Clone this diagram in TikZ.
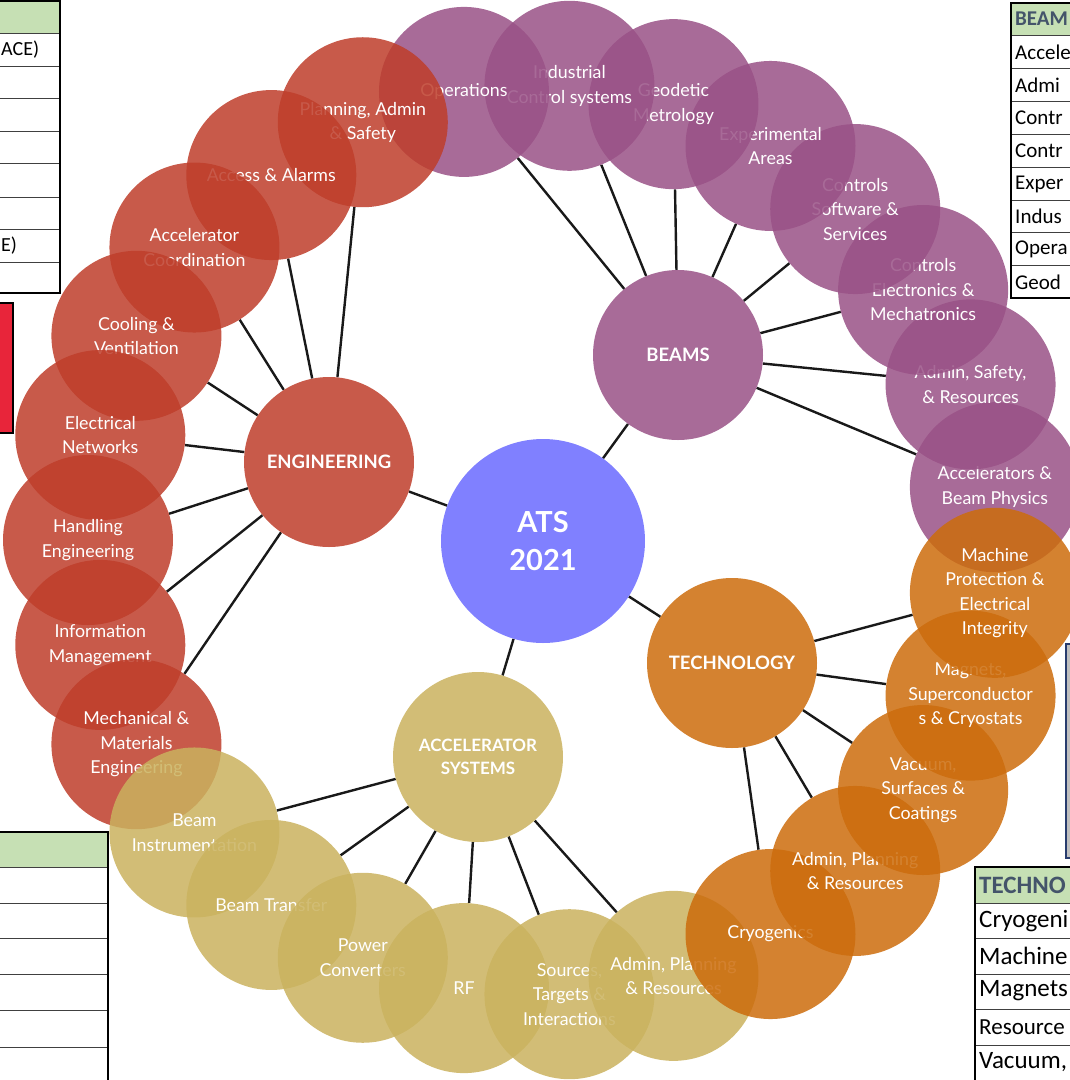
\documentclass[tikz,border=0pt]{standalone}
\usepackage{fontspec}
\setmainfont{Lato}
\newfontfamily\calfont{Carlito}
\definecolor{purpleC}{RGB}{153,81,134}
\definecolor{redC}{RGB}{190,61,42}
\definecolor{orangeC}{RGB}{204,108,12}
\definecolor{goldC}{RGB}{202,178,94}
\definecolor{atsC}{RGB}{128,128,255}
\definecolor{headgreen}{RGB}{198,224,180}
\definecolor{slateT}{RGB}{68,84,106}
\definecolor{redbox}{RGB}{232,37,58}
\definecolor{navyB}{RGB}{40,60,110}
\pgfdeclarelayer{bg}
\pgfsetlayers{bg,main}
\begin{document}
\begin{tikzpicture}[x=1pt,y=-1pt,
  bubble/.style={circle, minimum size=170pt, inner sep=0pt, fill opacity=0.85, text opacity=1, text=white, align=center, font=\fontsize{17.8}{24.5}\selectfont},
  hub/.style={bubble, font=\bfseries\fontsize{18.5}{23}\selectfont},
  conn/.style={line width=2.4pt, draw=black!90},
  cell/.style={font=\calfont\fontsize{21}{21}\selectfont, anchor=west, inner sep=0pt},
  bigcell/.style={font=\calfont\fontsize{25}{25}\selectfont, anchor=west, inner sep=0pt},
  thinrule/.style={line width=1pt, draw=black!75},
  thickrule/.style={line width=2.2pt, draw=black}
]
\useasboundingbox (0,0) rectangle (1070,1080);

% hubs
\node[circle, minimum size=204pt, inner sep=0pt, fill=atsC, text=white, align=center, font=\bfseries\fontsize{29}{38}\selectfont] (ats) at (543,541) {ATS\\2021};
\node[hub, fill=purpleC] (beams) at (678,355) {BEAMS};
\node[hub, fill=redC] (eng) at (329,462) {ENGINEERING};
\node[hub, fill=orangeC] (tech) at (732,663) {TECHNOLOGY};
\node[hub, fill=goldC, font=\bfseries\fontsize{17}{23}\selectfont] (accsys) at (478,757) {ACCELERATOR\\SYSTEMS};

% ring of bubbles (drawn counter-clockwise, each above the previous)
\node[bubble, fill=purpleC] (accp) at ({543+455*cos(6.667)},{540-455*sin(6.667)}) {Accelerators \&\\Beam Physics};
\node[bubble, fill=purpleC] (adms) at ({543+455*cos(20)},{540-455*sin(20)}) {Admin, Safety,\\\& Resources};
\node[bubble, fill=purpleC] (ctle) at ({543+455*cos(33.333)},{540-455*sin(33.333)}) {Controls\\Electronics \&\\Mechatronics};
\node[bubble, fill=purpleC] (ctls) at ({543+455*cos(46.667)},{540-455*sin(46.667)}) {Controls\\Software \&\\Services};
\node[bubble, fill=purpleC] (exper) at ({543+455*cos(60)},{540-455*sin(60)}) {Experimental\\Areas};
\node[bubble, fill=purpleC] (geod) at ({543+455*cos(73.333)},{540-455*sin(73.333)}) {Geodetic\\Metrology};
\node[bubble, fill=purpleC] (indus) at ({543+455*cos(86.667)},{540-455*sin(86.667)}) {Industrial\\Control systems};
\node[bubble, fill=purpleC] (oper) at ({543+455*cos(100)},{540-455*sin(100)}) {Operations};
\node[bubble, fill=redC] (plan) at ({543+455*cos(113.333)},{540-455*sin(113.333)}) {Planning, Admin\\\& Safety};
\node[bubble, fill=redC] (access) at ({543+455*cos(126.667)},{540-455*sin(126.667)}) {Access \& Alarms};
\node[bubble, fill=redC] (acoord) at ({543+455*cos(140)},{540-455*sin(140)}) {Accelerator\\Coordination};
\node[bubble, fill=redC] (cool) at ({543+455*cos(153.333)},{540-455*sin(153.333)}) {Cooling \&\\Ventilation};
\node[bubble, fill=redC] (elec) at ({543+455*cos(166.667)},{540-455*sin(166.667)}) {Electrical\\Networks};
\node[bubble, fill=redC] (hand) at ({543+455*cos(180)},{540-455*sin(180)}) {Handling\\Engineering};
\node[bubble, fill=redC] (info) at ({543+455*cos(193.333)},{540-455*sin(193.333)}) {Information\\Management};
\node[bubble, fill=redC] (mech) at ({543+455*cos(206.667)},{540-455*sin(206.667)}) {Mechanical \&\\Materials\\Engineering};
\node[bubble, fill=goldC] (binst) at ({543+455*cos(220)},{540-455*sin(220)}) {Beam\\Instrumentation};
\node[bubble, fill=goldC] (btrans) at ({543+455*cos(233.333)},{540-455*sin(233.333)}) {Beam Transfer};
\node[bubble, fill=goldC] (power) at ({543+455*cos(246.667)},{540-455*sin(246.667)}) {Power\\Converters};
\node[bubble, fill=goldC] (rf) at ({543+455*cos(260)},{540-455*sin(260)}) {RF};
\node[bubble, fill=goldC] (source) at ({543+455*cos(273.333)},{540-455*sin(273.333)}) {Sources,\\Targets \&\\Interactions};
\node[bubble, fill=goldC] (admg) at ({543+455*cos(286.667)},{540-455*sin(286.667)}) {Admin, Planning\\\& Resources};
\node[bubble, fill=orangeC] (cryo) at ({543+455*cos(300)},{540-455*sin(300)}) {Cryogenics};
\node[bubble, fill=orangeC] (admt) at ({543+455*cos(313.333)},{540-455*sin(313.333)}) {Admin, Planning\\\& Resources};
\node[bubble, fill=orangeC] (vac) at ({543+455*cos(326.667)},{540-455*sin(326.667)}) {Vacuum,\\Surfaces \&\\Coatings};
\node[bubble, fill=orangeC] (magn) at ({543+455*cos(340)},{540-455*sin(340)}) {Magnets,\\Superconductor\\s \& Cryostats};
\node[bubble, fill=orangeC] (mpei) at ({543+455*cos(353.333)},{540-455*sin(353.333)}) {Machine\\Protection \&\\Electrical\\Integrity};

% connectors behind
\begin{pgfonlayer}{bg}
\foreach \n in {beams,eng,tech,accsys} \draw[conn] (ats) -- (\n);
\foreach \n in {accp,adms,ctle,ctls,exper,geod,indus,oper} \draw[conn] (beams) -- (\n);
\foreach \n in {plan,access,acoord,cool,elec,hand,info,mech} \draw[conn] (eng) -- (\n);
\foreach \n in {binst,btrans,power,rf,source,admg} \draw[conn] (accsys) -- (\n);
\foreach \n in {cryo,admt,vac,magn,mpei} \draw[conn] (tech) -- (\n);
\end{pgfonlayer}

% ---- partial tables at the edges ----
% top-left
\fill[headgreen] (-3,1) rectangle (60,33);
\foreach \yy in {33,66,98,131,163,197,229,262} \draw[thinrule] (-3,\yy) -- (60,\yy);
\draw[thickrule] (-3,1) -- (60,1) -- (60,293) -- (-3,293);
\node[cell, font=\calfont\fontsize{20}{20}\selectfont] (tl1) at (1,50) {ACE)};
\node[cell, font=\calfont\fontsize{20}{20}\selectfont] (tl7) at (1,246) {E)};
% red box
\filldraw[fill=redbox, draw=black, line width=1.5pt] (-3,303) rectangle (13,433);

% top-right
\fill[headgreen] (1011,3) rectangle (1075,35.5);
\foreach \yy in {35.5,68.5,101.5,134.5,167.5,200,232.5,265.5} \draw[thinrule] (1011,\yy) -- (1075,\yy);
\draw[thickrule] (1075,3) -- (1011,3) -- (1011,298) -- (1075,298);
\node[cell, font=\calfont\bfseries\fontsize{21}{21}\selectfont, text=slateT] (tr0) at (1015,19) {BEAM};
\node[cell] (tr1) at (1015,52) {Accele};
\node[cell] (tr2) at (1015,85) {Admi};
\node[cell] (tr3) at (1015,118) {Contr};
\node[cell] (tr4) at (1015,151) {Contr};
\node[cell] (tr5) at (1015,184) {Exper};
\node[cell] (tr6) at (1015,216) {Indus};
\node[cell] (tr7) at (1015,249) {Opera};
\node[cell] (tr8) at (1015,282) {Geod};

% bottom-left
\fill[headgreen] (-3,832) rectangle (108,867);
\foreach \yy in {867,903,938,974,1010,1047} \draw[thinrule] (-3,\yy) -- (108,\yy);
\draw[thickrule] (-3,832) -- (108,832) -- (108,1083);

% right sliver (picture frame)
\filldraw[fill=black!25, draw=navyB, line width=1.5pt] (1066,644) rectangle (1078,858);

% bottom-right
\fill[headgreen] (975,867) rectangle (1075,903);
\foreach \yy in {903,938,974,1009,1045} \draw[thinrule] (975,\yy) -- (1075,\yy);
\draw[thickrule] (1075,867) -- (975,867) -- (975,1083);
\node[bigcell, font=\calfont\bfseries\fontsize{25}{25}\selectfont, text=slateT] (br0) at (979,885) {TECHNO};
\node[bigcell] (br1) at (979,921) {Cryogeni};
\node[bigcell] (br2) at (979,956) {Machine};
\node[bigcell] (br3) at (979,991) {Magnets};
\node[bigcell, font=\calfont\fontsize{23}{23}\selectfont] (br4) at (979,1027) {Resource};
\node[bigcell] (br5) at (979,1062) {Vacuum,};
\end{tikzpicture}
\end{document}
